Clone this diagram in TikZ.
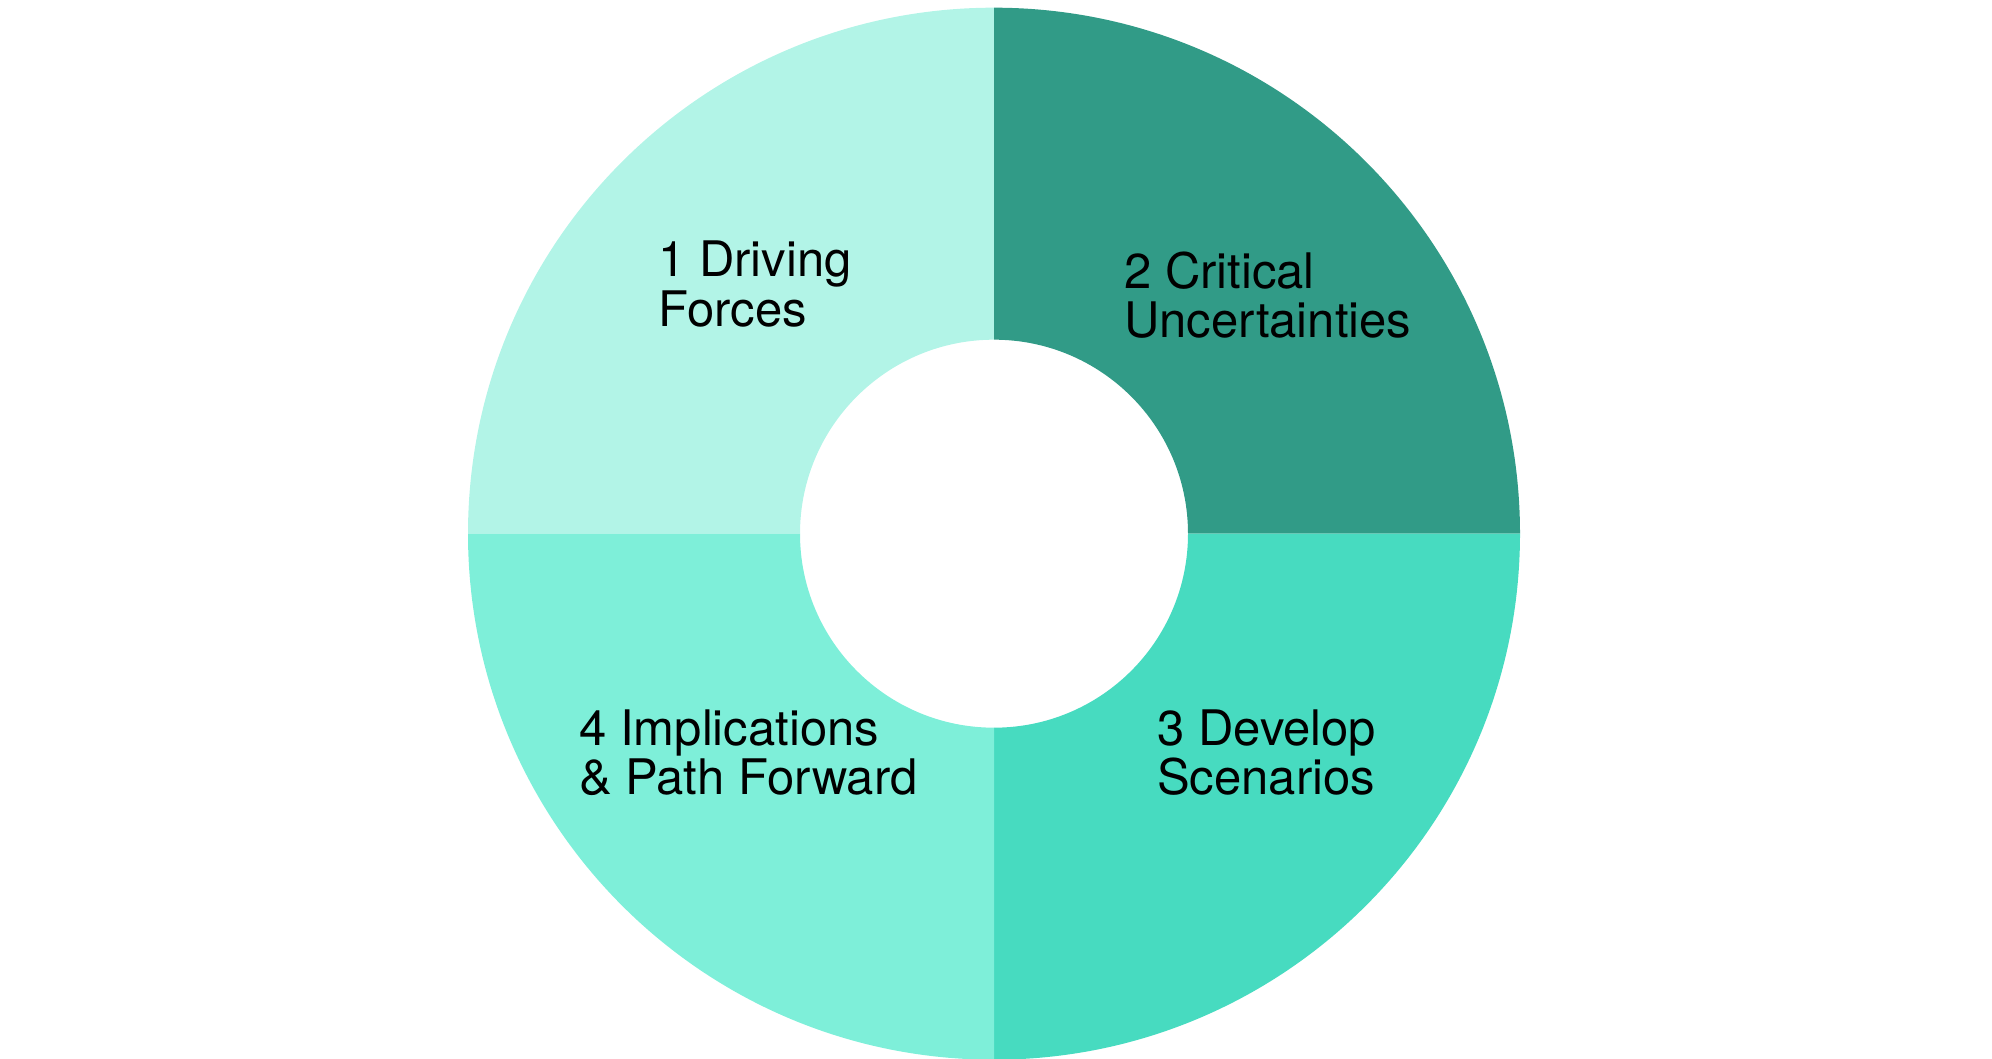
\documentclass[tikz,border=0pt]{standalone}
\usepackage{fontspec}
\setmainfont{TeX Gyre Heros}
\definecolor{qone}{HTML}{B2F4E7}
\definecolor{qtwo}{HTML}{319B87}
\definecolor{qthree}{HTML}{47DBC0}
\definecolor{qfour}{HTML}{7EEFD9}
\begin{document}
\begin{tikzpicture}[x=1pt,y=1pt,
  lbl/.style={anchor=base west,inner sep=0pt,align=left,text=black,
    font=\fontsize{49}{49.5}\selectfont}]
\useasboundingbox (0,0) rectangle (1992,1059);
\coordinate (c) at (994,525.3);
% top-left
\fill[qone] (994,1051.3) arc[start angle=90,end angle=180,radius=526]
  -- (800,525.3) arc[start angle=180,end angle=90,radius=194] -- cycle;
% top-right
\fill[qtwo] (994,1051.3) arc[start angle=90,end angle=0,radius=526]
  -- (1188,525.3) arc[start angle=0,end angle=90,radius=194] -- cycle;
% bottom-right
\fill[qthree] (994,-0.7) arc[start angle=270,end angle=360,radius=526]
  -- (1188,525.3) arc[start angle=0,end angle=-90,radius=194] -- cycle;
% bottom-left
\fill[qfour] (994,-0.7) arc[start angle=270,end angle=180,radius=526]
  -- (800,525.3) arc[start angle=180,end angle=270,radius=194] -- cycle;
\node[lbl] (l1) at (658,732.5) {1 Driving\\Forces};
\node[lbl] (l2) at (1124,721) {2 Critical\\Uncertainties};
\node[lbl] (l3) at (1157,264) {3 Develop\\Scenarios};
\node[lbl] (l4) at (579,264) {4 Implications\\\& Path Forward};
\end{tikzpicture}
\end{document}
